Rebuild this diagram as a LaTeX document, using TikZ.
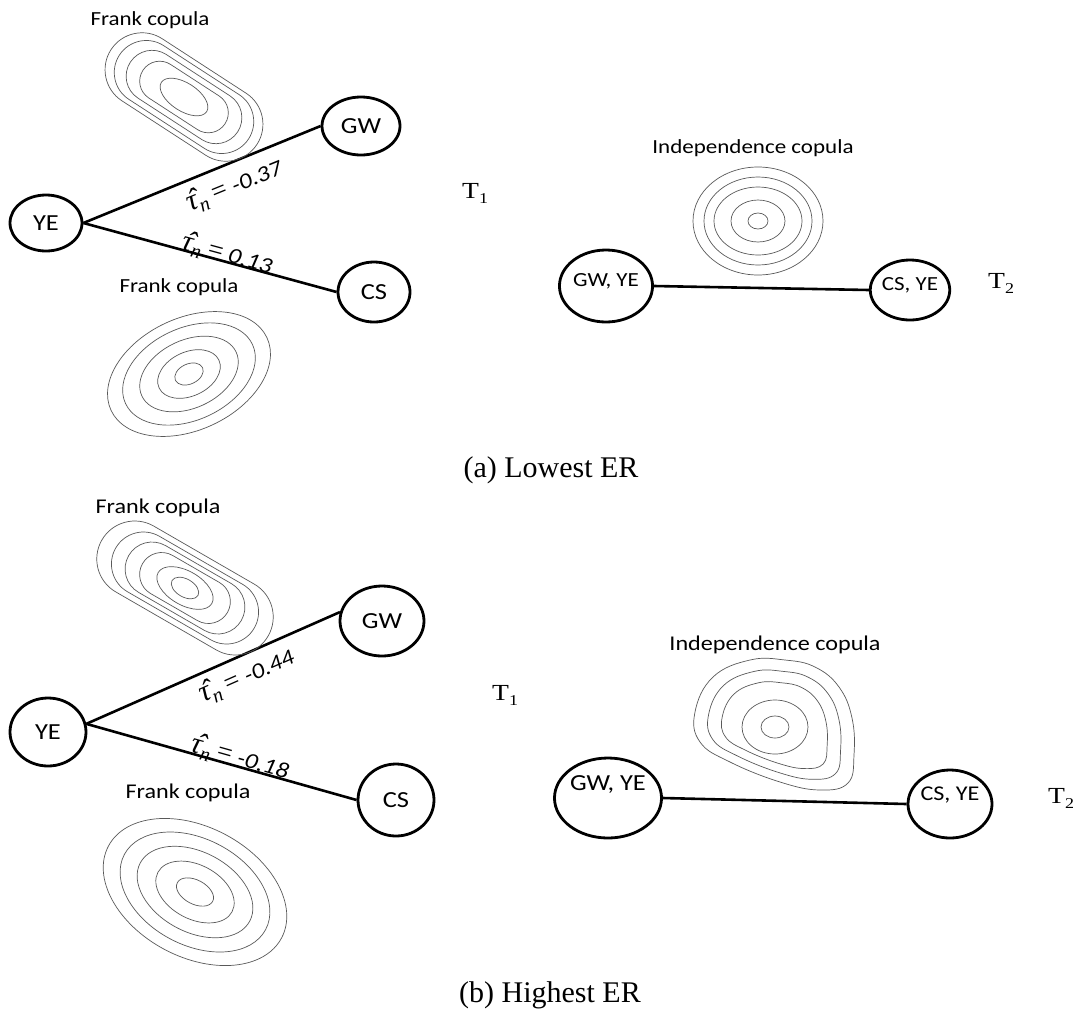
\documentclass[tikz,border=0pt]{standalone}
\usepackage{fontspec}
\setmainfont{Liberation Serif}
\newfontfamily\calfont[FakeStretch=1.15]{Carlito}
\newfontfamily\tfont[FakeStretch=1.2]{Liberation Serif}
\usetikzlibrary{shapes.geometric}

% tree level label such as T_1
\newcommand\treelevel[2]{{\tfont\fontsize{23}{26}\selectfont #1\raisebox{-5pt}{\fontsize{15}{17}\selectfont #2}}}
% Kendall's tau estimate: hatted tau, subscript n, value
\newcommand\tauval[1]{{\fontsize{30}{32}\selectfont\itshape\makebox[0pt][l]{\hspace{0.12em}ˆ}τ}%
  \raisebox{-5pt}{\fontsize{20}{22}\selectfont\itshape n}\hspace{6pt}{\fontsize{27}{28}\selectfont =}\hspace{6pt}{\calfont\fontsize{22}{25}\selectfont\itshape #1}}

\begin{document}
\begin{tikzpicture}[x=1pt,y=1pt,
  vnode/.style={draw, ellipse, line width=2.8pt, inner sep=0pt,
                font=\calfont\fontsize{23}{26}\selectfont},
  link/.style={line width=2.6pt},
  contour/.style={draw=black!65, line width=0.7pt},
  coplbl/.style={inner sep=0pt, font=\calfont\fontsize{20}{24}\selectfont},
  coplblb/.style={inner sep=0pt, font=\calfont\fontsize{21}{25}\selectfont},
  taulbl/.style={inner sep=0pt, sloped},
  levellbl/.style={inner sep=0pt, anchor=base west},
  caption/.style={inner sep=0pt, anchor=base, font=\fontsize{30}{34}\selectfont},
]
\useasboundingbox (0,0) rectangle (1081,-1010);

% ===================== (a) Lowest ER =====================
% first tree
\node[vnode, minimum width=72pt, minimum height=56pt] (yeA) at (46,-223) {YE};
\node[vnode, minimum width=78pt, minimum height=58pt] (gwA) at (361,-126) {GW};
\node[vnode, minimum width=72pt, minimum height=60pt] (csA) at (374,-292) {CS};
\draw[link] (yeA.east) -- node[taulbl, below=8pt, pos=0.6] (tauGWA) {\tauval{-0.37}} (gwA.west);
\draw[link] (yeA.east) -- node[taulbl, above=-6pt, pos=0.56] (tauCSA) {\tauval{0.13}} (csA.west);

\node[coplbl] (frankGWA) at (150,-20) {Frank copula};
\node[coplbl] (frankCSA) at (179,-287) {Frank copula};

% Frank copula density contours, negative dependence
\begin{scope}[shift={(184,-97)}, rotate=-33]
  \draw[contour] (0,0) ellipse[x radius=27, y radius=14];
  \foreach \s/\r in {29/20,38/26,45/32,50/37}
    \draw[contour] (-\s,\r) -- (\s,\r) arc[start angle=90, end angle=-90, radius=\r]
      -- (-\s,-\r) arc[start angle=270, end angle=90, radius=\r] -- cycle;
\end{scope}
% Frank copula density contours, positive dependence
\begin{scope}[shift={(189,-374)}, rotate=25]
  \foreach \a/\b in {15/10,33/22,52/34,70/46,86/56}
    \draw[contour] (0,0) ellipse[x radius=\a, y radius=\b];
\end{scope}

\node[levellbl] (levelA1) at (462,-198) {\treelevel{T}{1}};

% second tree
\node[vnode, minimum width=86pt, minimum height=72pt, text height=10pt, text depth=10pt,
      font=\calfont\fontsize{20}{23}\selectfont] (gwyeA) at (606,-286) {GW, YE};
\node[vnode, minimum width=76pt, minimum height=60pt, text height=10pt, text depth=10pt,
      font=\calfont\fontsize{20}{23}\selectfont] (csyeA) at (910,-290) {CS, YE};
\draw[link] (gwyeA.east) -- (csyeA.west);
\node[coplbl] (indepA) at (753,-148) {Independence copula};
\begin{scope}[shift={(758,-221)}]
  \foreach \a/\b in {10/8,27/21,44/34,54/44,65/54}
    \draw[contour] (0,0) ellipse[x radius=\a, y radius=\b];
\end{scope}
\node[levellbl] (levelA2) at (988,-288) {\treelevel{T}{2}};

\node[caption] (capA) at (551,-477) {(a) Lowest ER};

% ===================== (b) Highest ER =====================
% first tree
\node[vnode, minimum width=76pt, minimum height=68pt] (yeB) at (48,-732) {YE};
\node[vnode, minimum width=84pt, minimum height=70pt] (gwB) at (382,-621) {GW};
\node[vnode, minimum width=76pt, minimum height=72pt] (csB) at (396,-800) {CS};
\draw[link] (yeB.12) -- node[taulbl, below=6pt, pos=0.6] (tauGWB) {\tauval{-0.44}} (gwB.168);
\draw[link] (yeB.12) -- node[taulbl, above=-5pt, pos=0.56] (tauCSB) {\tauval{-0.18}} (csB.west);

\node[coplblb] (frankGWB) at (158,-508) {Frank copula};
\node[coplblb] (frankCSB) at (188,-793) {Frank copula};

% Frank copula density contours, strong negative dependence
\begin{scope}[shift={(185,-588)}, rotate=-30]
  \draw[contour] (0,0) ellipse[x radius=15, y radius=9];
  \draw[contour] (0,0) ellipse[x radius=31, y radius=17];
  \foreach \s/\r in {27/22,38/27,48/32,58/38}
    \draw[contour] (-\s,\r) -- (\s,\r) arc[start angle=90, end angle=-90, radius=\r]
      -- (-\s,-\r) arc[start angle=270, end angle=90, radius=\r] -- cycle;
\end{scope}
% Frank copula density contours, weak negative dependence
\begin{scope}[shift={(195,-892)}, rotate=-28]
  \foreach \a/\b in {20/12,42/27,62/40,80/53,98/65}
    \draw[contour] (0,0) ellipse[x radius=\a, y radius=\b];
\end{scope}

\node[levellbl] (levelB1) at (492,-700) {\treelevel{T}{1}};

% second tree
\node[vnode, minimum width=102pt, minimum height=80pt, text height=10pt, text depth=26pt,
      font=\calfont\fontsize{23}{26}\selectfont] (gwyeB) at (608,-798) {GW, YE};
\node[vnode, minimum width=84pt, minimum height=68pt, text height=10pt, text depth=18pt,
      font=\calfont\fontsize{21}{24}\selectfont] (csyeB) at (950,-804) {CS, YE};
\draw[link] (gwyeB.east) -- (csyeB.west);
\node[coplblb] (indepB) at (775,-645) {Independence copula};
\begin{scope}[shift={(775,-727)}]
  \draw[contour] (0,0) ellipse[x radius=14, y radius=11];
  \draw[contour] (0,0) ellipse[x radius=33, y radius=27];
  \foreach \k in {0.66,0.83,1}
    \draw[contour, scale=\k] plot[smooth cycle, tension=0.7] coordinates {
      (-25,67) (10,67) (40,60) (64,40) (77,9) (79,-28) (73,-56) (45,-63) (5,-55)
      (-45,-35) (-75,-15) (-80,15) (-62,50)};
\end{scope}
\node[levellbl] (levelB2) at (1048,-803) {\treelevel{T}{2}};

\node[caption] (capB) at (550,-1002) {(b) Highest ER};
\end{tikzpicture}
\end{document}
